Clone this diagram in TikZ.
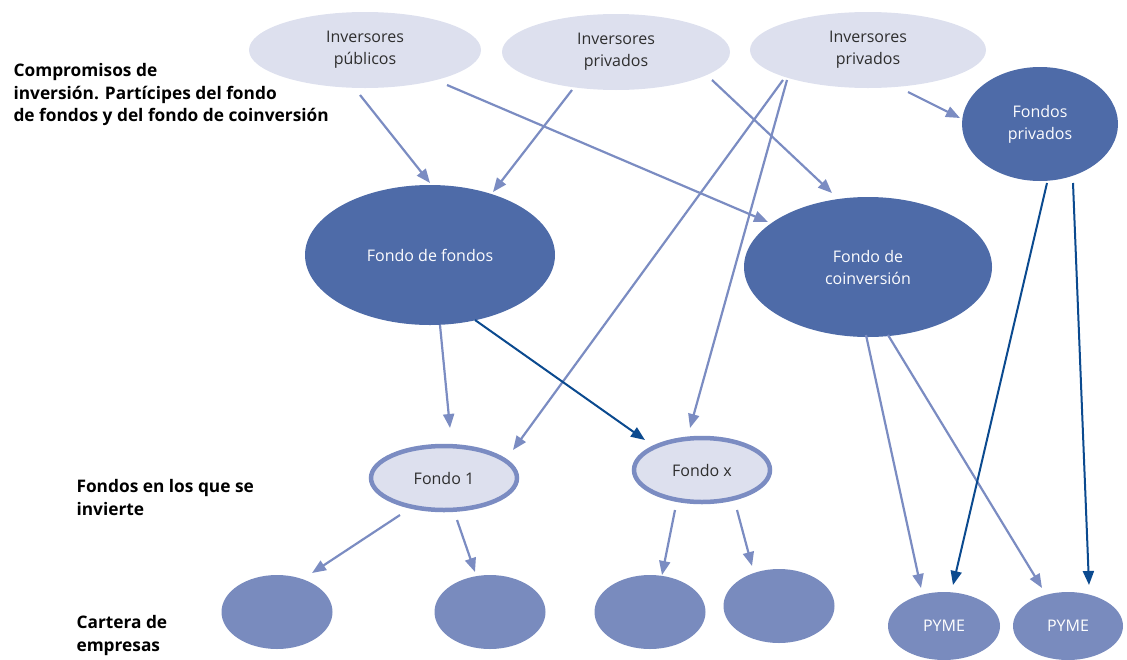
\documentclass[tikz,border=0pt]{standalone}
\usepackage{fontspec}
\setmainfont{Open Sans}
\usetikzlibrary{shapes.geometric,arrows.meta}
\definecolor{paleblue}{HTML}{DDE0EE}
\definecolor{deepblue}{HTML}{4E6BA8}
\definecolor{midblue}{HTML}{798BBE}
\definecolor{linkblue}{HTML}{7B8CC2}
\definecolor{navyarrow}{HTML}{0B4A8F}
\definecolor{inktext}{HTML}{2E2E2E}
\tikzset{
  base/.style={ellipse, inner sep=0pt, align=center, font=\fontsize{16}{22}\selectfont},
  investor/.style={base, fill=paleblue, text=inktext, minimum width=232pt, minimum height=76pt},
  fund/.style={base, fill=deepblue, text=white!92!paleblue},
  target/.style={base, fill=paleblue, draw=linkblue, line width=4.5pt, text=inktext},
  firm/.style={base, fill=midblue, text=white, minimum width=111pt, minimum height=74pt},
  tier/.style={anchor=north west, align=left, text=black, font=\fontsize{17.3}{22.5}\selectfont\bfseries},
  la/.style={draw=linkblue, line width=2.2pt, -{Triangle[length=14pt,width=11pt]}},
  da/.style={draw=navyarrow, line width=2pt, -{Triangle[length=14pt,width=11pt]}},
}
\begin{document}
\begin{tikzpicture}[x=1pt,y=-1pt]
\useasboundingbox (0,0) rectangle (1127,659);

% investors
\node[investor] (ip) at (365,50) {Inversores\\públicos};
\node[investor, minimum width=228pt] (ipa) at (616,52) {Inversores\\privados};
\node[investor, minimum width=236pt] (ipb) at (868,50) {Inversores\\privados};

% funds
\node[fund, minimum width=156pt, minimum height=114pt] (fp) at (1040,124) {Fondos\\privados};
\node[fund, minimum width=250pt, minimum height=140pt] (ff) at (430,255) {Fondo de fondos};
\node[fund, minimum width=248pt, minimum height=140pt] (fc) at (868,267) {Fondo de\\coinversión};

% funds invested in
\node[target, minimum width=146pt, minimum height=64pt] (f1) at (444,478) {Fondo 1};
\node[target, minimum width=136pt, minimum height=64pt] (fx) at (702,470) {Fondo x};

% portfolio companies
\node[firm] (c1) at (277,612) {};
\node[firm] (c2) at (490,612) {};
\node[firm] (c3) at (650,612) {};
\node[firm] (c4) at (779,606) {};
\node[firm, minimum width=112pt, minimum height=68pt] (p1) at (944,626) {PYME};
\node[firm, minimum width=110pt, minimum height=68pt] (p2) at (1068,626) {PYME};

% tier labels
\node[tier] (t1) at (10,60) {Compromisos de\\inversión. Partícipes del fondo\\de fondos y del fondo de coinversión};
\node[tier] (t2) at (73,476) {Fondos en los que se\\invierte};
\node[tier] (t3) at (73,612) {Cartera de\\empresas};

% commitments
\draw[la] ([shift={(-5,45)}]ip.center) -- ([shift={(0,-72)}]ff.center);
\draw[la] ([shift={(82,35)}]ip.center) -- ([shift={(-100,-45)}]fc.center);
\draw[la] ([shift={(-44,38)}]ipa.center) -- ([shift={(63,-63)}]ff.center);
\draw[la] ([shift={(96,28)}]ipa.center) -- ([shift={(-36,-74)}]fc.center);
\draw[la] ([shift={(-85,30)}]ipb.center) -- ([shift={(69,-28)}]f1.center);
\draw[la] ([shift={(-81,30)}]ipb.center) -- ([shift={(-12,-42)}]fx.center);
\draw[la] ([shift={(40,42)}]ipb.center) -- ([shift={(-80,-6)}]fp.center);

% fund flows
\draw[la] ([shift={(10,70)}]ff.center) -- ([shift={(6,-50)}]f1.center);
\draw[da] ([shift={(45,65)}]ff.center) -- ([shift={(-57,-30)}]fx.center);
\draw[la] ([shift={(-2,68)}]fc.center) -- ([shift={(-23,-38)}]p1.center);
\draw[la] ([shift={(20,68)}]fc.center) -- ([shift={(-26,-38)}]p2.center);
\draw[da] ([shift={(7,59)}]fp.center) -- ([shift={(9,-41)}]p1.center);
\draw[da] ([shift={(33,59)}]fp.center) -- ([shift={(21,-41)}]p2.center);

% portfolio investments
\draw[la] ([shift={(-44,37)}]f1.center) -- ([shift={(35,-39)}]c1.center);
\draw[la] ([shift={(13,42)}]f1.center) -- ([shift={(-15,-40)}]c2.center);
\draw[la] ([shift={(-27,40)}]fx.center) -- ([shift={(12,-37)}]c3.center);
\draw[la] ([shift={(35,40)}]fx.center) -- ([shift={(-27,-40)}]c4.center);
\end{tikzpicture}
\end{document}
